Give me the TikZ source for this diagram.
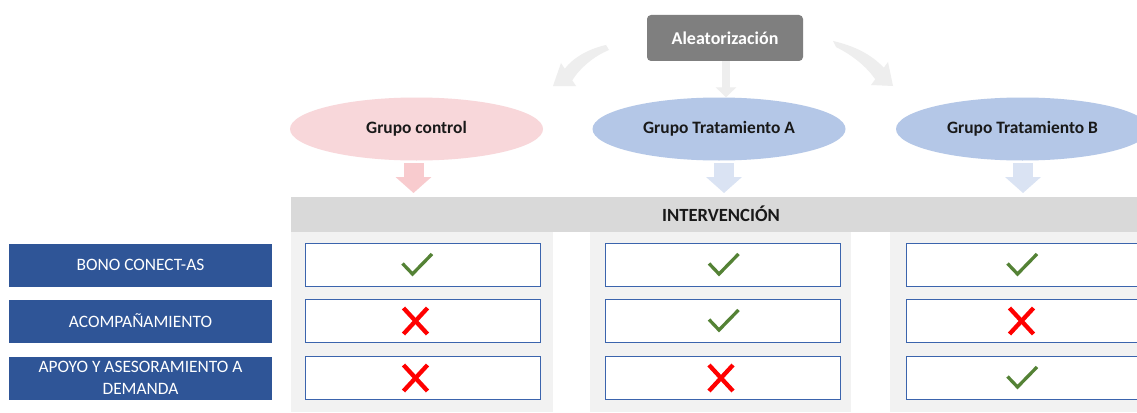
\documentclass[tikz,border=0pt]{standalone}
\usepackage{fontspec}
\setmainfont{Carlito}
\usetikzlibrary{arrows.meta,shapes.geometric,calc}
\definecolor{aleagray}{HTML}{7F7F7F}
\definecolor{arrgray}{HTML}{EEEEEE}
\definecolor{pinkell}{HTML}{F8D7DA}
\definecolor{pinkarr}{HTML}{F8CBCE}
\definecolor{blueell}{HTML}{B4C7E7}
\definecolor{bluearr}{HTML}{DAE3F3}
\definecolor{bargray}{HTML}{D9D9D9}
\definecolor{colgray}{HTML}{F2F2F2}
\definecolor{labelblue}{HTML}{2F5597}
\definecolor{cellborder}{HTML}{3B64AD}
\definecolor{okgreen}{HTML}{548235}
\definecolor{nored}{HTML}{FF0000}
\begin{document}
\begin{tikzpicture}[x=1pt,y=-1pt,
  lbl/.style={fill=labelblue, text=white, minimum width=263pt, minimum height=43pt, inner sep=0pt, align=center, font=\fontsize{17.4}{22}\selectfont},
  cell/.style={draw=cellborder, line width=0.8pt, fill=white, minimum width=235pt, minimum height=43pt, inner sep=0pt},
  grp/.style={ellipse, minimum width=253pt, minimum height=63pt, inner sep=0pt, font=\bfseries\fontsize{17.4}{20}\selectfont, text=black!90},
  colbg/.style={fill=colgray, draw=none, minimum height=180pt, inner sep=0pt},
  blockarr/.style={line width=20pt, -{Triangle[width=35pt,length=16pt]}},
  okmark/.style={draw=okgreen, line width=3.3pt},
  nomark/.style={draw=nored, line width=4.3pt},
  okp/.pic={\draw[okmark] (-15,-1.5) -- (-5,9) -- (14.5,-11);},
  nop/.pic={\draw[nomark] (-12,-13) -- (12,13) (-12,13) -- (12,-13);}]
\clip (0,0) rectangle (1137,412);
\useasboundingbox (0,0) rectangle (1137,412);
\fill[white] (0,0) rectangle (1137,412);

% column backgrounds
\node[colbg, minimum width=262pt, anchor=north west] (bg1) at (291,232) {};
\node[colbg, minimum width=261pt, anchor=north west] (bg2) at (590,232) {};
\node[colbg, minimum width=260pt, anchor=north west] (bg3) at (890,232) {};

% intervention bar
\node[fill=bargray, minimum width=846pt, minimum height=35pt, inner sep=0pt, anchor=north west] (bar) at (291,197) {};
\node[font=\bfseries\fontsize{18.6}{20}\selectfont, text=black!90] (bartxt) at (721,214) {INTERVENCIÓN};

% curved arrows from randomisation (drawn as filled swooshes)
\fill[arrgray] (606,45) .. controls (588,49) and (573,58) .. (564.75,68.75)
  -- (561,63) -- (553,86) -- (576,86) -- (572.25,80.25)
  .. controls (580,68) and (594,56) .. (609,50) -- cycle;
\fill[arrgray] (833,41) .. controls (855,46) and (872,55) .. (883.75,67.75)
  -- (888,62) -- (893,86) -- (871,85) -- (875.25,79.25)
  .. controls (866,66) and (852,55) .. (836,47) -- cycle;

% randomisation box
\node[fill=aleagray, rounded corners=4pt, minimum width=156pt, minimum height=46pt, inner sep=0pt, text=white, font=\bfseries\fontsize{18}{20}\selectfont] (alea) at (725,38) {Aleatorización};

% groups
\node[grp, fill=pinkell] (gc) at (416.5,129) {Grupo control};
\node[grp, fill=blueell] (ga) at (719,129) {Grupo Tratamiento A};
\node[grp, fill=blueell] (gb) at (1022.5,129) {Grupo Tratamiento B};

% straight arrow from randomisation to group A
\coordinate (aleab) at ($(alea.south)+(1,0)$);
\draw[draw=arrgray, line width=8pt, -{Triangle[width=20pt,length=10pt]}] (aleab) -- (aleab |- ga.north);

% block arrows into intervention
\coordinate (gcs) at ($(gc.south)+(-3,2.5)$);
\coordinate (gas) at ($(ga.south)+(5,2.5)$);
\coordinate (gbs) at ($(gb.south)+(0.5,2.5)$);
\draw[blockarr, draw=pinkarr] (gcs) -- ($(gcs |- bar.north)+(0,-4)$);
\draw[blockarr, draw=bluearr] (gas) -- ($(gas |- bar.north)+(0,-4)$);
\draw[blockarr, draw=bluearr] (gbs) -- ($(gbs |- bar.north)+(0,-4)$);

% row labels
\node[lbl] (l1) at (140.5,265) {BONO CONECT-AS};
\node[lbl] (l2) at (140.5,321) {ACOMPAÑAMIENTO};
\node[lbl] (l3) at (140.5,378) {APOYO Y ASESORAMIENTO A\\DEMANDA};

% cells
\foreach \c/\x in {1/422.5,2/723,3/1023.5}{
  \node[cell] (c\c r1) at (\x,265) {};
  \node[cell] (c\c r2) at (\x,321) {};
  \node[cell] (c\c r3) at (\x,378) {};
}
% marks
\pic at ($(c1r1)+(-5,0)$) {okp};
\pic at ($(c1r2)+(-7,0)$) {nop};
\pic at ($(c1r3)+(-7,0)$) {nop};
\pic at ($(c2r1)+(1,0)$) {okp};
\pic at ($(c2r2)+(1,0)$) {okp};
\pic at ($(c2r3)+(-2,0)$) {nop};
\pic at ($(c3r1)+(-1,0)$) {okp};
\pic at ($(c3r2)+(-2,0)$) {nop};
\pic at ($(c3r3)+(-1,0)$) {okp};
\end{tikzpicture}
\end{document}
